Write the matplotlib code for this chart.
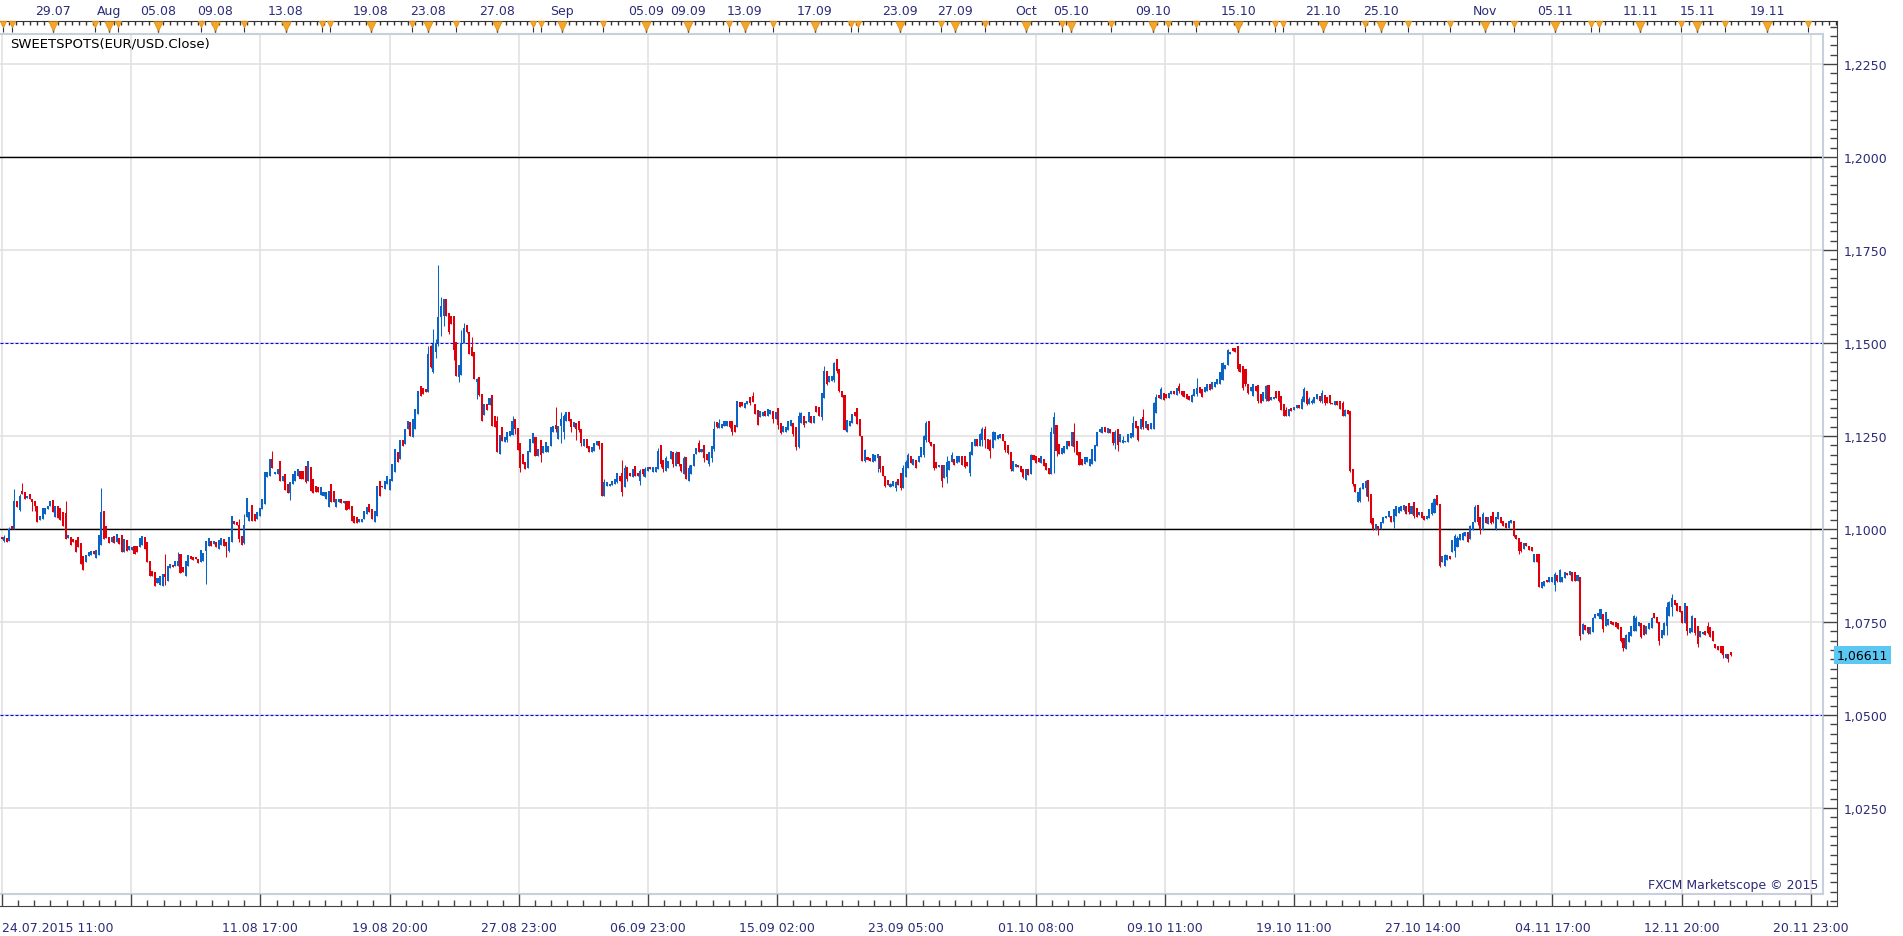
import numpy as np
import matplotlib
matplotlib.use("Agg")
import matplotlib.pyplot as plt

# EUR/USD 3h candles, in pips above 1.0000
opens = [
    978, 967, 975, 969, 1009, 1000, 1076, 1050, 1103, 1099, 1082, 1094, 1081, 1076, 1061, 1025, 1027, 1040, 1054, 1063,
    1078, 1031, 1061, 1056, 1045, 1043, 975, 978, 973, 971, 978, 962, 927, 910, 927, 930, 942, 921, 930, 957,
    1049, 1009, 978, 966, 980, 964, 975, 984, 939, 971, 944, 944, 955, 955, 951, 957, 978, 964, 915, 888,
    884, 855, 850, 846, 879, 861, 894, 904, 901, 901, 933, 897, 873, 901, 927, 924, 924, 919, 910, 915,
    940, 953, 967, 960, 966, 946, 957, 973, 966, 940, 966, 1022, 1018, 1011, 980, 962, 1031, 1022, 1065, 1040,
    1027, 1036, 1054, 1067, 1139, 1142, 1188, 1148, 1148, 1182, 1130, 1148, 1121, 1097, 1121, 1130, 1143, 1157, 1157, 1170,
    1130, 1168, 1134, 1116, 1112, 1091, 1090, 1081, 1058, 1121, 1103, 1058, 1072, 1081, 1070, 1076, 1076, 1061, 1034, 1031,
    1018, 1020, 1027, 1040, 1067, 1054, 1018, 1036, 1130, 1116, 1108, 1121, 1106, 1130, 1152, 1206, 1188, 1240, 1229, 1269,
    1287, 1247, 1269, 1309, 1384, 1378, 1376, 1367, 1493, 1421,
    1475, 1500, 1570, 1572, 1618, 1581, 1572, 1572, 1502, 1408,
    1415, 1500, 1548, 1530, 1490, 1476, 1395, 1408, 1363, 1306,
    1336, 1332, 1360, 1305, 1290, 1202, 1273, 1235, 1240, 1251,
    1253, 1296, 1271, 1231, 1202, 1179, 1163, 1206, 1231, 1246,
    1195, 1240, 1204, 1206, 1206, 1222, 1260, 1280, 1242, 1278,
    1260, 1289, 1314, 1296, 1273, 1285, 1290, 1269, 1224, 1242,
    1224, 1206, 1211, 1226, 1237, 1231, 1090, 1116, 1115, 1118,
    1121, 1125, 1143, 1150, 1112, 1166, 1151, 1139, 1170, 1151,
    1130, 1161, 1139, 1157, 1166, 1154, 1154, 1160, 1226, 1186,
    1157, 1163, 1188, 1206, 1170, 1206, 1175, 1148, 1193, 1130,
    1148, 1170, 1202, 1230, 1206, 1226, 1202, 1175, 1190, 1215,
    1287, 1271, 1271, 1276, 1278, 1291, 1289, 1280, 1273, 1342,
    1342, 1324, 1336, 1354, 1358, 1336, 1320, 1300, 1303, 1318,
    1303, 1309, 1318, 1296, 1324, 1285, 1262, 1262, 1267, 1278,
    1285, 1273, 1220, 1285, 1305, 1285, 1287, 1305, 1285, 1331,
    1327, 1300, 1351, 1426, 1394, 1398, 1400, 1457, 1430, 1372,
    1360, 1262, 1278, 1285, 1315, 1324, 1297, 1249, 1184,
    1194, 1190, 1181, 1184, 1190, 1195, 1170, 1143, 1133, 1112,
    1116, 1110, 1134, 1150, 1109, 1139, 1163, 1195, 1172, 1186,
    1179, 1193, 1200, 1240, 1291, 1235, 1228, 1179, 1168, 1172,
    1136, 1140, 1159, 1181, 1188, 1177, 1179, 1197, 1195, 1179,
    1150, 1199, 1224, 1242, 1224, 1240, 1270, 1242, 1240, 1217,
    1240, 1242, 1244, 1255, 1237, 1226, 1208, 1157, 1166, 1172,
    1170, 1161, 1133, 1161, 1148, 1199, 1195, 1190, 1177, 1188,
    1177, 1163, 1148, 1255, 1280, 1228, 1202, 1204, 1215, 1237,
    1224, 1260, 1237, 1208, 1188, 1175, 1179, 1170, 1175, 1184,
    1224, 1260, 1258, 1273, 1258, 1269, 1262, 1230, 1269, 1235,
    1231, 1233, 1235, 1244, 1246, 1291, 1276, 1269, 1300, 1271,
    1282, 1269, 1269, 1312, 1360, 1349, 1366, 1363, 1351, 1363,
    1372, 1360, 1385, 1372, 1372, 1363, 1357, 1342, 1357, 1362,
    1381, 1375, 1369, 1372, 1390, 1376, 1381, 1390, 1390, 1401,
    1430, 1441, 1470, 1486, 1486, 1491, 1443, 1439, 1430, 1390,
    1372, 1357, 1385, 1387, 1363, 1345, 1350, 1387, 1348, 1349,
    1372, 1372, 1357, 1336, 1320, 1305, 1324, 1320, 1324,
    1333, 1323, 1342, 1372, 1336, 1340, 1340, 1349, 1358, 1345,
    1360, 1354, 1360, 1340, 1333, 1345, 1345, 1340, 1305, 1320,
    1318, 1161, 1121, 1072, 1075, 1107, 1110, 1133, 1094, 1029,
    998, 1009, 1000, 1016, 1029, 1031, 1036, 1018, 1034, 1043,
    1049, 1052, 1063, 1070, 1040, 1072, 1056, 1038, 1047, 1034,
    1027, 1029, 1040, 1043, 1091, 1067, 910, 900, 918, 928,
    939, 940, 951, 971, 971, 982, 991, 973, 998, 1018,
    1065, 1031, 998, 1031, 1013, 1036, 1045, 1000, 1027, 1031,
    1022, 1016, 1004, 1016, 1022, 984, 975, 964, 946, 962,
    953, 951, 912, 933, 933, 841, 848, 864, 857, 857,
    850, 876, 857, 857, 867, 882, 876, 885, 884, 861,
    870, 718, 742, 736, 718, 724, 760, 765, 758, 772,
    740, 742, 754, 751, 749, 747, 736, 706, 677, 697,
    713, 727, 727, 738, 747, 742, 718, 731, 733, 774,
    763, 749, 706, 715, 740, 765, 790, 810, 801, 792,
    780, 747, 792, 720, 722, 760, 738, 709, 718, 727,
    740, 736, 727, 691, 686, 686, 685, 652, 664, 670,
]
highs = [
    978, 984, 975, 1005, 1009, 1108, 1076, 1094, 1124, 1099, 1088, 1094, 1081, 1076, 1061, 1036, 1056, 1056, 1061, 1076,
    1078, 1061, 1061, 1056, 1045, 1076, 984, 978, 973, 971, 978, 962, 927, 930, 939, 942, 942, 944, 984, 1110,
    1049, 1009, 978, 978, 980, 987, 975, 984, 973, 971, 953, 951, 955, 955, 975, 980, 978, 964, 915, 888,
    884, 867, 873, 879, 933, 901, 906, 904, 915, 937, 933, 897, 915, 930, 927, 924, 924, 919, 944, 936,
    969, 975, 967, 967, 966, 971, 975, 973, 966, 978, 1034, 1022, 1018, 1027, 980, 1040, 1082, 1045, 1065, 1040,
    1045, 1056, 1081, 1152, 1152, 1188, 1209, 1152, 1160, 1182, 1143, 1148, 1121, 1125, 1148, 1157, 1160, 1157, 1157, 1170,
    1182, 1168, 1134, 1116, 1112, 1112, 1099, 1099, 1103, 1121, 1103, 1081, 1081, 1081, 1076, 1076, 1076, 1061, 1034, 1031,
    1027, 1027, 1049, 1058, 1067, 1054, 1049, 1116, 1130, 1116, 1130, 1143, 1134, 1175, 1215, 1206, 1240, 1240, 1269, 1291,
    1287, 1296, 1323, 1372, 1384, 1378, 1376, 1493, 1495, 1537,
    1510, 1710, 1625, 1618, 1618, 1581, 1572, 1572, 1502, 1440,
    1535, 1554, 1548, 1530, 1515, 1476, 1405, 1408, 1363, 1336,
    1336, 1351, 1360, 1305, 1303, 1253, 1273, 1246, 1260, 1263,
    1303, 1296, 1271, 1231, 1202, 1179, 1211, 1242, 1258, 1246,
    1215, 1240, 1224, 1235, 1224, 1273, 1278, 1327, 1278, 1315,
    1309, 1314, 1314, 1296, 1287, 1285, 1290, 1269, 1242, 1242,
    1224, 1220, 1231, 1237, 1237, 1231, 1134, 1125, 1121, 1130,
    1134, 1150, 1143, 1186, 1172, 1166, 1151, 1160, 1170, 1151,
    1160, 1161, 1166, 1166, 1166, 1168, 1166, 1217, 1226, 1186,
    1195, 1184, 1211, 1206, 1211, 1206, 1175, 1195, 1193, 1172,
    1172, 1202, 1217, 1240, 1215, 1226, 1202, 1206, 1224, 1291,
    1287, 1297, 1282, 1289, 1291, 1291, 1289, 1280, 1345, 1342,
    1342, 1340, 1345, 1354, 1367, 1336, 1320, 1318, 1314, 1318,
    1323, 1321, 1318, 1315, 1324, 1285, 1276, 1273, 1289, 1294,
    1285, 1273, 1315, 1315, 1305, 1291, 1314, 1305, 1305, 1331,
    1327, 1366, 1439, 1426, 1412, 1410, 1448, 1457, 1430, 1372,
    1360, 1294, 1291, 1309, 1315, 1324, 1297, 1249, 1215,
    1194, 1190, 1202, 1199, 1202, 1195, 1170, 1143, 1133, 1125,
    1130, 1130, 1134, 1150, 1172, 1186, 1204, 1195, 1188, 1186,
    1195, 1220, 1253, 1291, 1291, 1235, 1228, 1179, 1172, 1172,
    1172, 1195, 1184, 1206, 1188, 1195, 1197, 1197, 1195, 1179,
    1211, 1235, 1242, 1242, 1258, 1273, 1276, 1242, 1242, 1264,
    1260, 1253, 1255, 1255, 1237, 1226, 1208, 1184, 1175, 1172,
    1170, 1161, 1161, 1161, 1202, 1199, 1195, 1190, 1195, 1188,
    1177, 1163, 1273, 1314, 1280, 1228, 1219, 1224, 1237, 1237,
    1260, 1285, 1237, 1208, 1188, 1193, 1193, 1188, 1215, 1226,
    1260, 1269, 1273, 1273, 1271, 1269, 1262, 1267, 1269, 1255,
    1249, 1237, 1255, 1258, 1305, 1291, 1276, 1297, 1323, 1289,
    1282, 1285, 1342, 1363, 1360, 1381, 1366, 1363, 1366, 1372,
    1372, 1378, 1392, 1372, 1372, 1363, 1357, 1363, 1376, 1405,
    1381, 1375, 1383, 1390, 1390, 1394, 1394, 1403, 1423, 1448,
    1441, 1484, 1477, 1486, 1486, 1491, 1443, 1439, 1430, 1390,
    1381, 1390, 1385, 1387, 1363, 1367, 1387, 1387, 1354, 1354,
    1372, 1372, 1357, 1336, 1327, 1323, 1324, 1327, 1333,
    1333, 1358, 1381, 1372, 1354, 1349, 1354, 1363, 1358, 1375,
    1360, 1354, 1360, 1340, 1345, 1345, 1345, 1345, 1323, 1320,
    1318, 1161, 1121, 1099, 1112, 1124, 1133, 1133, 1094, 1029,
    1013, 1009, 1020, 1031, 1036, 1049, 1036, 1054, 1061, 1058,
    1063, 1065, 1063, 1070, 1063, 1072, 1056, 1047, 1047, 1034,
    1034, 1054, 1073, 1082, 1091, 1067, 928, 933, 930, 928,
    971, 986, 980, 986, 993, 991, 991, 1011, 1020, 1065,
    1065, 1031, 1047, 1031, 1031, 1036, 1045, 1031, 1047, 1031,
    1022, 1016, 1022, 1025, 1022, 984, 975, 964, 962, 962,
    953, 951, 933, 933, 933, 857, 861, 864, 870, 870,
    884, 876, 892, 870, 884, 882, 888, 885, 884, 876,
    870, 747, 742, 736, 736, 763, 772, 774, 785, 772,
    776, 758, 754, 751, 749, 747, 736, 706, 718, 722,
    740, 769, 767, 751, 747, 742, 738, 747, 763, 774,
    763, 749, 729, 751, 803, 807, 825, 810, 801, 792,
    780, 801, 792, 733, 769, 760, 738, 727, 724, 727,
    751, 736, 727, 691, 686, 686, 685, 664, 664, 670,
]
lows = [
    973, 964, 966, 969, 1000, 1000, 1058, 1048, 1094, 1081, 1082, 1081, 1049, 1049, 1020, 1025, 1027, 1040, 1054, 1063,
    1045, 1031, 1030, 1025, 1009, 973, 975, 957, 964, 939, 951, 906, 891, 910, 927, 930, 933, 921, 930, 957,
    973, 975, 962, 966, 962, 964, 960, 939, 939, 942, 944, 944, 933, 939, 951, 957, 946, 910, 875, 875,
    846, 855, 850, 846, 850, 861, 894, 897, 901, 901, 882, 884, 873, 901, 919, 918, 919, 909, 910, 915,
    852, 953, 953, 960, 951, 946, 957, 955, 924, 937, 966, 1014, 1011, 964, 957, 960, 1031, 1022, 1022, 1022,
    1027, 1036, 1054, 1067, 1139, 1142, 1163, 1148, 1148, 1130, 1130, 1106, 1097, 1079, 1121, 1130, 1143, 1134, 1134, 1125,
    1130, 1103, 1097, 1099, 1100, 1091, 1090, 1081, 1058, 1072, 1072, 1058, 1072, 1070, 1070, 1052, 1054, 1022, 1016, 1016,
    1018, 1020, 1027, 1040, 1045, 1027, 1018, 1036, 1090, 1112, 1108, 1121, 1106, 1130, 1152, 1181, 1188, 1224, 1229, 1269,
    1251, 1247, 1269, 1309, 1358, 1363, 1367, 1367, 1432, 1419,
    1460, 1493, 1518, 1547, 1572, 1524, 1550, 1455, 1410, 1396,
    1415, 1500, 1528, 1470, 1464, 1403, 1349, 1358, 1291, 1306,
    1321, 1332, 1276, 1273, 1208, 1202, 1237, 1235, 1233, 1251,
    1253, 1255, 1213, 1154, 1175, 1160, 1163, 1206, 1231, 1197,
    1195, 1179, 1204, 1206, 1206, 1222, 1260, 1262, 1242, 1231,
    1242, 1289, 1291, 1262, 1273, 1240, 1260, 1222, 1224, 1217,
    1206, 1206, 1211, 1226, 1215, 1090, 1088, 1116, 1115, 1118,
    1121, 1125, 1130, 1088, 1112, 1130, 1142, 1139, 1142, 1142,
    1118, 1143, 1139, 1157, 1161, 1154, 1154, 1160, 1168, 1152,
    1157, 1163, 1188, 1166, 1170, 1170, 1152, 1148, 1134, 1130,
    1148, 1170, 1202, 1206, 1206, 1179, 1186, 1170, 1181, 1211,
    1271, 1271, 1271, 1276, 1278, 1271, 1253, 1260, 1273, 1327,
    1330, 1324, 1336, 1333, 1342, 1309, 1280, 1300, 1303, 1303,
    1303, 1309, 1285, 1296, 1269, 1255, 1262, 1262, 1267, 1278,
    1249, 1213, 1217, 1285, 1273, 1285, 1287, 1285, 1285, 1314,
    1303, 1294, 1351, 1387, 1394, 1398, 1394, 1419, 1367, 1354,
    1267, 1262, 1278, 1285, 1305, 1282, 1249, 1184, 1179,
    1186, 1184, 1181, 1184, 1154, 1154, 1143, 1112, 1118, 1112,
    1116, 1103, 1118, 1106, 1109, 1139, 1163, 1177, 1172, 1163,
    1179, 1193, 1193, 1233, 1231, 1222, 1159, 1163, 1168, 1114,
    1136, 1125, 1159, 1181, 1172, 1177, 1179, 1172, 1163, 1170,
    1143, 1199, 1224, 1224, 1224, 1224, 1219, 1215, 1190, 1217,
    1240, 1242, 1244, 1237, 1208, 1202, 1157, 1157, 1166, 1166,
    1154, 1136, 1133, 1145, 1148, 1186, 1177, 1181, 1177, 1170,
    1159, 1148, 1148, 1150, 1197, 1202, 1202, 1204, 1215, 1222,
    1224, 1208, 1199, 1172, 1172, 1175, 1179, 1170, 1175, 1184,
    1224, 1260, 1258, 1260, 1258, 1258, 1226, 1215, 1211, 1235,
    1231, 1233, 1235, 1244, 1246, 1271, 1237, 1269, 1269, 1271,
    1267, 1269, 1269, 1312, 1351, 1349, 1348, 1351, 1351, 1363,
    1363, 1360, 1366, 1358, 1354, 1349, 1348, 1342, 1357, 1357,
    1366, 1354, 1369, 1372, 1374, 1376, 1381, 1390, 1390, 1401,
    1430, 1441, 1470, 1479, 1475, 1426, 1423, 1375, 1385, 1363,
    1372, 1357, 1372, 1340, 1339, 1345, 1345, 1345, 1348, 1349,
    1351, 1342, 1321, 1305, 1305, 1305, 1318, 1320, 1324,
    1324, 1323, 1342, 1332, 1336, 1336, 1340, 1349, 1342, 1340,
    1332, 1339, 1336, 1336, 1333, 1332, 1323, 1303, 1305, 1310,
    1154, 1116, 1099, 1072, 1073, 1107, 1090, 1076, 1013, 998,
    998, 984, 1000, 1016, 1029, 1031, 1018, 1002, 1034, 1043,
    1049, 1049, 1040, 1040, 1040, 1029, 1031, 1038, 1029, 1025,
    1027, 1029, 1038, 1043, 1065, 897, 910, 900, 918, 919,
    939, 924, 951, 971, 971, 982, 966, 973, 998, 1018,
    1011, 987, 998, 1016, 1013, 1013, 1016, 998, 1027, 1016,
    1007, 1004, 1004, 1016, 978, 973, 933, 937, 946, 953,
    944, 942, 912, 912, 843, 841, 848, 858, 857, 857,
    832, 857, 857, 857, 867, 876, 876, 861, 861, 861,
    702, 718, 729, 718, 718, 724, 760, 765, 758, 724,
    740, 742, 745, 742, 736, 731, 695, 673, 677, 697,
    713, 727, 727, 738, 706, 715, 718, 731, 733, 760,
    747, 688, 706, 715, 715, 765, 765, 796, 780, 776,
    747, 747, 715, 720, 722, 715, 682, 709, 718, 715,
    718, 709, 700, 679, 676, 668, 652, 652, 642, 658,
]
closes = [
    973, 978, 966, 1000, 1000, 1076, 1058, 1090, 1094, 1081, 1088, 1081, 1072, 1061, 1020, 1036, 1056, 1056, 1061, 1076,
    1045, 1061, 1030, 1025, 1009, 973, 984, 957, 964, 939, 951, 906, 891, 930, 939, 942, 933, 944, 984, 1045,
    973, 975, 962, 978, 962, 987, 960, 939, 973, 942, 953, 951, 933, 939, 975, 980, 946, 910, 875, 875,
    846, 867, 873, 879, 870, 901, 906, 897, 915, 915, 882, 884, 915, 930, 919, 918, 919, 909, 944, 936,
    969, 975, 953, 967, 951, 971, 975, 955, 955, 978, 1034, 1014, 1011, 973, 957, 1010, 1082, 1045, 1022, 1022,
    1045, 1056, 1081, 1152, 1152, 1188, 1163, 1152, 1160, 1130, 1143, 1106, 1097, 1125, 1148, 1157, 1160, 1134, 1134, 1125,
    1182, 1103, 1097, 1099, 1100, 1112, 1099, 1099, 1103, 1072, 1072, 1081, 1081, 1070, 1076, 1052, 1054, 1022, 1016, 1016,
    1027, 1027, 1049, 1058, 1045, 1027, 1049, 1116, 1090, 1112, 1130, 1143, 1134, 1175, 1215, 1181, 1240, 1224, 1269, 1291,
    1251, 1296, 1323, 1372, 1358, 1363, 1367, 1470, 1435, 1497,
    1500, 1571, 1600, 1618, 1572, 1530, 1552, 1480, 1410, 1440,
    1500, 1540, 1530, 1470, 1464, 1403, 1404, 1360, 1291, 1336,
    1321, 1351, 1276, 1273, 1208, 1253, 1237, 1246, 1260, 1263,
    1290, 1270, 1213, 1165, 1175, 1160, 1211, 1242, 1258, 1197,
    1215, 1200, 1224, 1235, 1224, 1273, 1278, 1270, 1278, 1295,
    1305, 1314, 1291, 1275, 1287, 1270, 1265, 1230, 1242, 1217,
    1206, 1220, 1231, 1237, 1222, 1090, 1125, 1125, 1121, 1130,
    1134, 1150, 1130, 1100, 1165, 1135, 1142, 1160, 1142, 1142,
    1155, 1148, 1160, 1166, 1161, 1168, 1166, 1210, 1175, 1160,
    1190, 1184, 1211, 1175, 1205, 1175, 1155, 1190, 1134, 1165,
    1172, 1202, 1217, 1208, 1215, 1190, 1186, 1206, 1224, 1270,
    1275, 1285, 1282, 1289, 1291, 1275, 1262, 1262, 1345, 1327,
    1330, 1340, 1345, 1340, 1342, 1309, 1280, 1318, 1314, 1303,
    1323, 1321, 1295, 1315, 1280, 1258, 1276, 1273, 1289, 1294,
    1255, 1220, 1305, 1312, 1280, 1291, 1314, 1285, 1305, 1314,
    1303, 1366, 1425, 1390, 1412, 1410, 1445, 1425, 1370, 1354,
    1267, 1294, 1291, 1309, 1305, 1282, 1249, 1184, 1212,
    1186, 1184, 1202, 1199, 1202, 1160, 1143, 1115, 1118, 1120,
    1128, 1125, 1118, 1110, 1165, 1180, 1200, 1177, 1188, 1165,
    1195, 1220, 1250, 1285, 1235, 1222, 1165, 1163, 1172, 1130,
    1172, 1180, 1184, 1200, 1172, 1195, 1197, 1172, 1168, 1170,
    1208, 1235, 1242, 1224, 1255, 1270, 1240, 1215, 1210, 1260,
    1260, 1253, 1255, 1237, 1212, 1205, 1160, 1184, 1175, 1166,
    1154, 1140, 1161, 1145, 1200, 1186, 1177, 1181, 1195, 1170,
    1159, 1148, 1260, 1300, 1210, 1202, 1219, 1224, 1237, 1222,
    1260, 1220, 1199, 1172, 1172, 1193, 1193, 1188, 1215, 1226,
    1260, 1269, 1273, 1260, 1271, 1258, 1230, 1262, 1225, 1255,
    1240, 1237, 1255, 1258, 1285, 1271, 1240, 1297, 1275, 1289,
    1267, 1285, 1340, 1355, 1351, 1375, 1348, 1351, 1366, 1372,
    1363, 1378, 1370, 1360, 1356, 1350, 1348, 1360, 1376, 1380,
    1366, 1356, 1383, 1390, 1374, 1394, 1394, 1403, 1423, 1445,
    1441, 1480, 1477, 1479, 1475, 1430, 1423, 1380, 1390, 1365,
    1381, 1390, 1372, 1345, 1339, 1367, 1385, 1345, 1354, 1354,
    1351, 1345, 1321, 1305, 1305, 1323, 1318, 1327, 1333,
    1324, 1350, 1375, 1335, 1350, 1345, 1354, 1363, 1345, 1365,
    1340, 1340, 1340, 1336, 1345, 1332, 1323, 1305, 1320, 1310,
    1156, 1120, 1100, 1099, 1110, 1124, 1130, 1085, 1015, 1000,
    1013, 998, 1020, 1031, 1036, 1049, 1018, 1054, 1061, 1058,
    1063, 1065, 1040, 1045, 1063, 1035, 1031, 1047, 1029, 1025,
    1034, 1054, 1070, 1080, 1065, 900, 928, 930, 930, 919,
    971, 980, 975, 986, 990, 991, 966, 1008, 1020, 1060,
    1020, 1000, 1040, 1016, 1031, 1015, 1020, 1031, 1045, 1016,
    1007, 1004, 1022, 1025, 980, 973, 940, 940, 962, 953,
    944, 942, 933, 912, 845, 857, 861, 858, 870, 870,
    880, 860, 890, 870, 884, 876, 888, 861, 861, 876,
    712, 745, 729, 720, 736, 760, 772, 774, 785, 730,
    776, 758, 745, 742, 736, 731, 700, 680, 715, 722,
    740, 765, 760, 751, 710, 715, 738, 747, 760, 760,
    747, 700, 729, 748, 790, 805, 815, 796, 780, 776,
    747, 801, 725, 733, 765, 720, 690, 727, 724, 715,
    720, 709, 700, 679, 676, 668, 660, 664, 650, 661,
]

last_price = 1.06611
solid_levels = [1.1000, 1.2000]
dotted_levels = [1.0500, 1.1500]
price_ticks = [1.0250, 1.0500, 1.0750, 1.1000, 1.1250, 1.1500, 1.1750, 1.2000, 1.2250]

bottom_labels = ["24.07.2015 11:00", "", "11.08 17:00", "19.08 20:00", "27.08 23:00",
                 "06.09 23:00", "15.09 02:00", "23.09 05:00", "01.10 08:00", "09.10 11:00",
                 "19.10 11:00", "27.10 14:00", "04.11 17:00", "12.11 20:00", "20.11 23:00"]

# top date strip, positions in candles
top_labels = ["29.07", "Aug", "05.08", "09.08", "13.08", "19.08", "23.08", "27.08", "Sep",
              "05.09", "09.09", "13.09", "17.09", "23.09", "27.09", "Oct", "05.10", "09.10",
              "15.10", "21.10", "25.10", "Nov", "05.11", "11.11", "15.11", "19.11"]
top_pos = [20.1, 42.0, 61.2, 83.5, 111.3, 144.6, 166.9, 193.9, 219.4,
           252.3, 268.7, 291.0, 318.4, 351.7, 373.3, 401.1, 418.7, 450.8,
           484.1, 517.3, 540.1, 580.8, 608.2, 641.5, 663.8, 691.2]
events = [0.5, 4.0, 20.1, 36.5, 42.0, 45.5, 61.2, 78.0, 83.5, 94.9, 111.3, 125.4, 128.5,
          144.6, 160.6, 166.9, 177.9, 193.9, 208.0, 211.2, 219.4, 235.4, 252.3, 268.7,
          284.8, 291.0, 302.0, 318.4, 332.5, 335.3, 351.7, 367.8, 373.3, 385.0, 401.1,
          415.1, 418.7, 434.3, 450.8, 456.7, 467.6, 484.1, 498.6, 501.7, 517.3, 533.8,
          540.1, 550.6, 567.1, 580.8, 592.1, 608.2, 622.3, 625.4, 641.5, 657.6, 663.8,
          674.8, 691.2, 707.2]

W, H = 1903, 937
px_bar = 2.554            # screen pixels per candle
div = 129.2 / px_bar      # candles between time grid lines
blue = "#0a64c8"
red = "#e0000c"
navy = "#2b2b78"
grid_c = "#e2e2e2"
frame_c = "#c7d0dc"

plt.rcParams["font.family"] = ["DejaVu Sans"]


def box(x0, y0, x1, y1):
    return [x0 / W, 1 - y1 / H, (x1 - x0) / W, (y1 - y0) / H]


def price_at(py):
    return 1.2 - (py - 158) / 3720.0


fig = plt.figure(figsize=(W / 100, H / 100), dpi=100)
fig.patch.set_facecolor("white")

x_left = -1.7 / px_bar
x_main = (x_left, x_left + 1823 / px_bar)
x_strip = (x_left, x_left + 1837 / px_bar)

# main plot
ax = fig.add_axes(box(0, 35, 1823, 895))
tick_x = 0.12 + np.arange(len(bottom_labels)) * div
ax.set_xticks(tick_x)
ax.set_yticks(price_ticks)
ax.set_xlim(*x_main)
ax.set_ylim(price_at(895), price_at(35))
ax.tick_params(length=0, labelleft=False, labelbottom=False)
ax.grid(True, color=grid_c, lw=1.2)
ax.set_axisbelow(True)
for s in ["top", "right", "bottom"]:
    ax.spines[s].set_color(frame_c)
    ax.spines[s].set_linewidth(1.5)
ax.spines["left"].set_visible(False)

for lv in solid_levels:
    ax.axhline(lv, color="black", lw=1.0, zorder=2)
for lv in dotted_levels:
    ax.axhline(lv, color="#0000ff", lw=0.8, ls=(0, (2.7, 1.8)), zorder=2)

o = 1 + np.array(opens) / 1e4
h = 1 + np.array(highs) / 1e4
l = 1 + np.array(lows) / 1e4
c = 1 + np.array(closes) / 1e4
x = np.arange(len(c))
col = np.where(c >= o, blue, red)
ax.vlines(x, l, h, colors=col, lw=0.75, zorder=3)
ax.bar(x, np.maximum(np.abs(c - o), 0.00004), 0.8, bottom=np.minimum(o, c),
       color=col, lw=0, zorder=3)

fig.text(10 / W, 1 - 44 / H, "SWEETSPOTS(EUR/USD.Close)", fontsize=9.5,
         color="black", va="center", ha="left")
fig.text(1818 / W, 1 - 886 / H, "FXCM Marketscope \u00a9 2015", fontsize=9,
         color=navy, va="center", ha="right")

# right price scale
axr = fig.add_axes(box(1823, 22, 1837, 907))
axr.set_xticks([])
axr.set_yticks(price_ticks)
minor_p = np.arange(1.0, 1.2376, 0.0025)
axr.set_yticks(minor_p[minor_p < price_at(22)], minor=True)
axr.set_ylim(price_at(907), price_at(22))
axr.yaxis.set_major_formatter(lambda v, p: f"{v:.4f}".replace(".", ","))
axr.tick_params(axis="y", which="both", left=False, right=True, labelleft=False,
                labelright=True, direction="in", color="#444444",
                labelcolor=navy, labelsize=9, pad=5, width=1)
axr.tick_params(axis="y", which="major", length=10)
axr.tick_params(axis="y", which="minor", length=5)
axr.patch.set_alpha(0)
for s in ["top", "left", "bottom"]:
    axr.spines[s].set_visible(False)
axr.spines["right"].set_color("#444444")
axr.text(1.0, last_price, f"{last_price:.5f}".replace(".", ","),
         transform=axr.get_yaxis_transform(), ha="left", va="center",
         fontsize=9, color="black",
         bbox=dict(boxstyle="square,pad=0.22", fc="#5bc8f4", ec="none"))

# bottom time scale
axb = fig.add_axes(box(0, 895, 1837, 907))
axb.set_yticks([])
axb.set_xticks(tick_x, labels=bottom_labels)
minor_t = np.arange(0, 15 * 8 + 3) * div / 8 + 0.12
axb.set_xticks(minor_t[minor_t < x_strip[1]], minor=True)
axb.set_xlim(*x_strip)
axb.tick_params(axis="x", which="both", direction="in", color="#444444",
                labelcolor=navy, labelsize=9, pad=11, width=1)
axb.tick_params(axis="x", which="major", length=9)
axb.tick_params(axis="x", which="minor", length=4)
axb.get_xticklabels()[0].set_horizontalalignment("left")
axb.patch.set_alpha(0)
for s in ["top", "left", "right"]:
    axb.spines[s].set_visible(False)
axb.spines["bottom"].set_color("#444444")

# top date strip with event markers
axt = fig.add_axes(box(0, 22, 1837, 34))
axt.set_yticks([])
axt.xaxis.tick_top()
axt.set_xticks(top_pos, labels=top_labels)
axt.set_xticks(np.arange(0, x_strip[1], 7 / px_bar), minor=True)
axt.set_xlim(*x_strip)
axt.set_ylim(0, 1)
axt.tick_params(axis="x", which="both", direction="in", color="#333333",
                labelcolor=navy, labelsize=9, pad=3, width=1)
axt.tick_params(axis="x", which="major", length=8)
axt.tick_params(axis="x", which="minor", length=3)
axt.patch.set_alpha(0)
for s in ["bottom", "left", "right"]:
    axt.spines[s].set_visible(False)
axt.spines["top"].set_color("#333333")
axt.vlines(events, 0.05, 1, color="#333333", lw=0.8)
ev = np.array(events)
big = np.isin(np.round(ev, 1), np.round(top_pos, 1))
axt.scatter(ev[~big], np.full((~big).sum(), 0.74), marker="v", s=22,
            c="#f7a629", edgecolors="#e08c0c", lw=0.5, zorder=4, clip_on=False)
axt.scatter(ev[big], np.full(big.sum(), 0.62), marker="v", s=46,
            c="#f7a629", edgecolors="#e08c0c", lw=0.5, zorder=4, clip_on=False)

fig.savefig("out.png", dpi=100)
